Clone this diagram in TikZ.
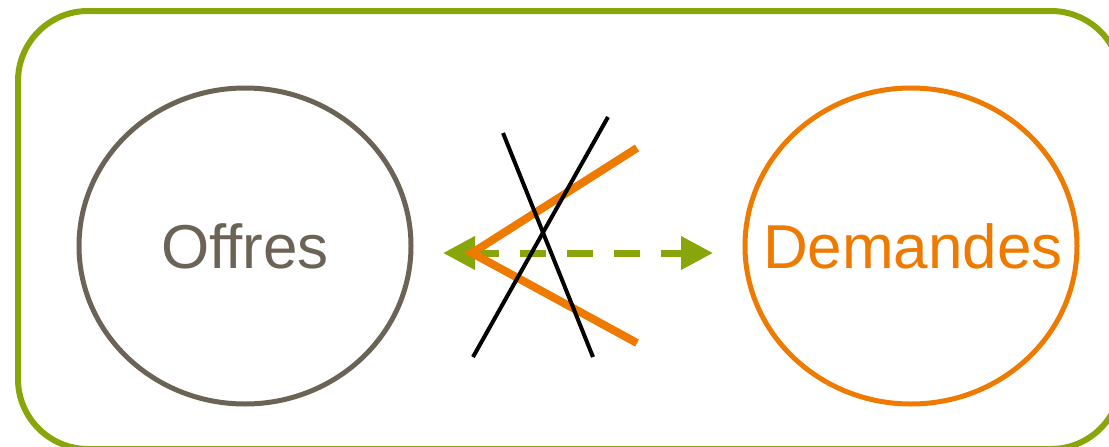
\documentclass[tikz,border=0pt]{standalone}
\usepackage{fontspec}
\setmainfont{Liberation Sans}
\usetikzlibrary{shapes.geometric,arrows.meta}
\definecolor{frameGreen}{RGB}{136,166,10}
\definecolor{offGray}{RGB}{107,99,85}
\definecolor{demOrange}{RGB}{238,122,0}
\tikzset{
  bubble/.style={ellipse, minimum width=332pt, minimum height=316pt, inner sep=0pt, outer sep=0pt, line width=5pt},
  bubbletext/.style={inner sep=0pt, font=\fontsize{62}{70}\selectfont},
  exchange/.style={draw=frameGreen, line width=7pt, dash pattern=on 26pt off 21pt, {Triangle[length=32pt,width=32pt]}-{Triangle[length=32pt,width=32pt]}},
  chevron/.style={draw=demOrange, line width=8pt, line join=miter},
  crossline/.style={draw=black, line width=4pt},
}
\begin{document}
\begin{tikzpicture}[x=1pt,y=-1pt]
\useasboundingbox (0,0) rectangle (1109,447);
\clip (0,0) rectangle (1109,447);
\draw[frameGreen, line width=6pt, rounded corners=70pt] (18,11) rectangle (1121,449);
\node[bubble, draw=offGray] (offres) at (245,246) {};
\node[bubble, draw=demOrange] (demandes) at (911,246) {};
\node[bubbletext, text=offGray] (offreslbl) at (offres.center) {Offres};
\node[bubbletext, text=demOrange] (demandeslbl) at ([xshift=2pt]demandes.center) {Demandes};
\coordinate (al) at (443,253);
\coordinate (ar) at (713,253);
\draw[exchange] (al) -- (ar);
\coordinate (c1) at (637,148);
\coordinate (c2) at (472,253);
\coordinate (c3) at (637,343);
\draw[chevron] (c1) -- (c2) -- (c3);
\coordinate (x1a) at (503,133);
\coordinate (x1b) at (593,357);
\coordinate (x2a) at (608,117);
\coordinate (x2b) at (473,357);
\draw[crossline] (x1a) -- (x1b);
\draw[crossline] (x2a) -- (x2b);
\end{tikzpicture}
\end{document}
